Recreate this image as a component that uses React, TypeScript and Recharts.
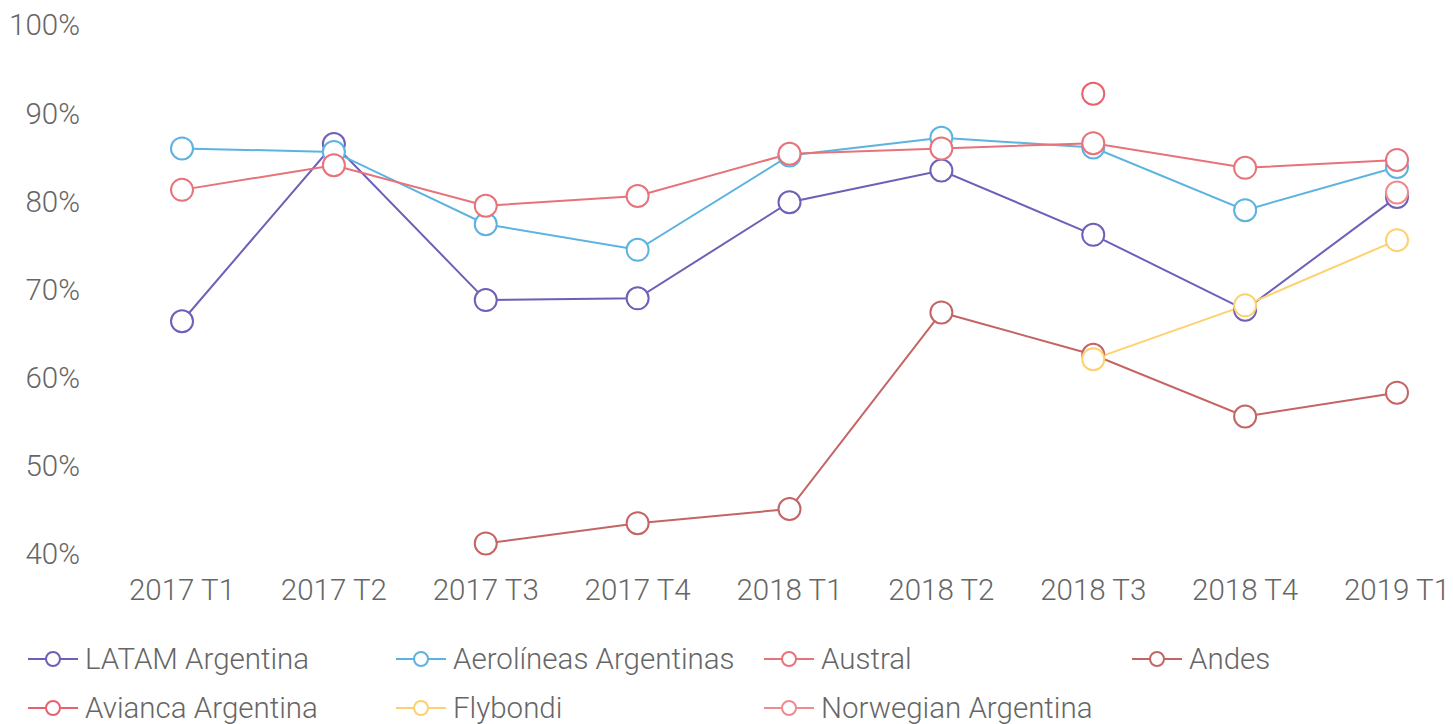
import React from 'react';
import { LineChart, Line, XAxis, YAxis } from 'recharts';

const categories = ['2017 T1', '2017 T2', '2017 T3', '2017 T4', '2018 T1', '2018 T2', '2018 T3', '2018 T4', '2019 T1'];
const latam = [66.4, 86.5, 68.8, 69.0, 79.9, 83.5, 76.2, 67.7, 80.5];
const aerolineas = [86.0, 85.6, 77.4, 74.5, 85.2, 87.2, 86.1, 79.0, 83.9];
const austral = [81.3, 84.1, 79.5, 80.6, 85.4, 86.0, 86.6, 83.8, 84.7];
const andes = [null, null, 41.2, 43.5, 45.1, 67.4, 62.6, 55.6, 58.3];
const avianca = [null, null, null, null, null, null, 92.2, null, null];
const flybondi = [null, null, null, null, null, null, 62.1, 68.2, 75.6];
const norwegian = [null, null, null, null, null, null, null, null, 81.0];
const yTicks = [40, 50, 60, 70, 80, 90, 100];

const series = [
  { key: 'latam', name: 'LATAM Argentina', color: '#6e5fb8', values: latam },
  { key: 'aerolineas', name: 'Aerolíneas Argentinas', color: '#5db3e0', values: aerolineas },
  { key: 'austral', name: 'Austral', color: '#e8727a', values: austral },
  { key: 'andes', name: 'Andes', color: '#c56464', values: andes },
  { key: 'avianca', name: 'Avianca Argentina', color: '#e9606e', values: avianca },
  { key: 'flybondi', name: 'Flybondi', color: '#fdd26e', values: flybondi },
  { key: 'norwegian', name: 'Norwegian Argentina', color: '#f08a90', values: norwegian },
];

const data = categories.map((c, i) => {
  const row: Record<string, any> = { cat: c };
  series.forEach((s) => {
    row[s.key] = s.values[i];
  });
  return row;
});

const FONT = 'Roboto, sans-serif';
const TEXT = '#666666';
const FS = 29.5;

export default function App() {
  return (
    <div style={{ position: 'relative', marginLeft: -8, marginTop: -8, width: 1453, height: 724, overflow: 'hidden', background: '#fff' }}>
      <LineChart width={1453} height={630} data={data} margin={{ top: 25, right: 0, bottom: 16, left: 0 }}>
        <XAxis
          dataKey="cat"
          scale="point"
          padding={{ left: 92, right: 56 }}
          axisLine={false}
          tickLine={false}
          tickSize={0}
          tickMargin={25}
          height={60}
          interval={0}
          tick={{ fill: TEXT, fontSize: FS, fontFamily: FONT, fontWeight: 300 }}
        />
        <YAxis
          domain={[40, 100]}
          ticks={yTicks}
          width={90}
          axisLine={false}
          tickLine={false}
          tickSize={0}
          tickMargin={10}
          tickFormatter={(v: number) => `${v}%`}
          tick={{ fill: TEXT, fontSize: FS, fontFamily: FONT, fontWeight: 300 }}
        />
        {series.map((s) => (
          <Line
            key={s.key}
            dataKey={s.key}
            name={s.name}
            stroke={s.color}
            strokeWidth={2}
            dot={{ r: 11, fill: '#fff', stroke: s.color, strokeWidth: 2 }}
            activeDot={false}
            isAnimationActive={false}
          />
        ))}
      </LineChart>
      <div
        style={{
          position: 'absolute',
          top: 634,
          left: 28,
          display: 'grid',
          gridTemplateColumns: 'repeat(4, 368px)',
          gridAutoRows: '49px',
          fontFamily: FONT,
          fontWeight: 300,
          fontSize: FS,
          color: TEXT,
        }}
      >
        {series.map((s) => (
          <div key={s.key} style={{ display: 'flex', alignItems: 'center', whiteSpace: 'nowrap' }}>
            <svg width={50} height={20} style={{ marginRight: 7, flex: 'none' }}>
              <line x1={0} y1={10} x2={50} y2={10} stroke={s.color} strokeWidth={2} />
              <circle cx={25} cy={10} r={7} fill="#fff" stroke={s.color} strokeWidth={2} />
            </svg>
            <span>{s.name}</span>
          </div>
        ))}
      </div>
    </div>
  );
}
